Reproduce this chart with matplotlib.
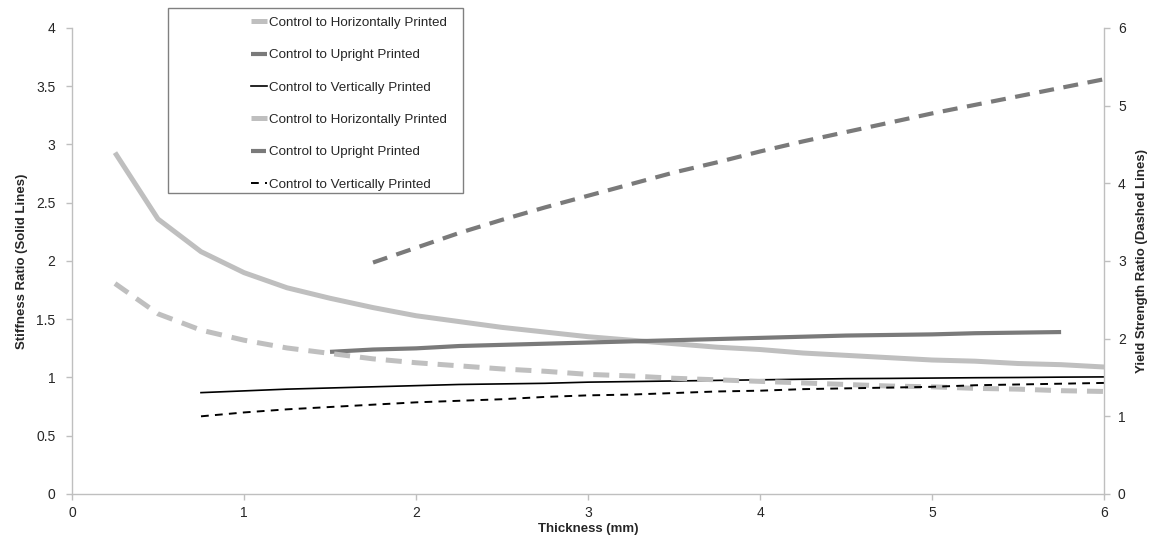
import matplotlib
matplotlib.use("Agg")
import matplotlib.pyplot as plt
from matplotlib.patches import Rectangle

plt.rcParams['font.family'] = ['Liberation Sans', 'DejaVu Sans']

# ---- data ----
x_horiz = [0.25, 0.5, 0.75, 1.0, 1.25, 1.5, 1.75, 2.0, 2.25, 2.5, 2.75, 3.0,
           3.25, 3.5, 3.75, 4.0, 4.25, 4.5, 4.75, 5.0, 5.25, 5.5, 5.75, 6.0]
stiff_horiz = [2.93, 2.36, 2.08, 1.90, 1.77, 1.68, 1.60, 1.53, 1.48, 1.43, 1.39, 1.35,
               1.32, 1.29, 1.26, 1.24, 1.21, 1.19, 1.17, 1.15, 1.14, 1.12, 1.11, 1.09]

x_upright_s = [1.5, 1.75, 2.0, 2.25, 2.5, 2.75, 3.0, 3.25, 3.5, 3.75, 4.0,
               4.25, 4.5, 4.75, 5.0, 5.25, 5.5, 5.75]
stiff_upright = [1.22, 1.24, 1.25, 1.27, 1.28, 1.29, 1.30, 1.31, 1.32, 1.33, 1.34,
                 1.35, 1.36, 1.365, 1.37, 1.38, 1.385, 1.39]

x_vert = [0.75, 1.0, 1.25, 1.5, 1.75, 2.0, 2.25, 2.5, 2.75, 3.0, 3.25, 3.5,
          3.75, 4.0, 4.25, 4.5, 4.75, 5.0, 5.25, 5.5, 5.75, 6.0]
stiff_vert = [0.87, 0.885, 0.90, 0.91, 0.92, 0.93, 0.94, 0.945, 0.95, 0.96, 0.965, 0.97,
              0.975, 0.98, 0.985, 0.99, 0.992, 0.995, 0.998, 1.0, 1.003, 1.005]

yield_horiz = [2.71, 2.32, 2.11, 1.98, 1.88, 1.81, 1.74, 1.69, 1.65, 1.61, 1.58, 1.54,
               1.52, 1.49, 1.47, 1.45, 1.43, 1.41, 1.39, 1.38, 1.36, 1.35, 1.33, 1.32]

x_upright_y = [1.75, 2.0, 2.25, 2.5, 2.75, 3.0, 3.25, 3.5, 3.75, 4.0, 4.25,
               4.5, 4.75, 5.0, 5.25, 5.5, 5.75, 6.0]
yield_upright = [2.98, 3.17, 3.36, 3.53, 3.69, 3.84, 3.99, 4.14, 4.27, 4.41, 4.54,
                 4.66, 4.78, 4.90, 5.01, 5.12, 5.23, 5.34]

yield_vert = [1.00, 1.05, 1.09, 1.12, 1.15, 1.18, 1.20, 1.22, 1.25, 1.27, 1.28, 1.30,
              1.32, 1.33, 1.35, 1.36, 1.37, 1.38, 1.40, 1.41, 1.42, 1.43]

legend_labels = ["Control to Horizontally Printed", "Control to Upright Printed",
                 "Control to Vertically Printed", "Control to Horizontally Printed",
                 "Control to Upright Printed", "Control to Vertically Printed"]

x_ticks = [0, 1, 2, 3, 4, 5, 6]
left_ticks = [0, 0.5, 1, 1.5, 2, 2.5, 3, 3.5, 4]
right_ticks = [0, 1, 2, 3, 4, 5, 6]

LIGHT = '#bfbfbf'
DARK = '#7a7a7a'
BLACK = '#000000'
SPINE = '#bfbfbf'
TXT = '#262626'

fig = plt.figure(figsize=(11.61, 5.40), dpi=100)
ax = fig.add_axes([0.062, 0.0852, 0.889, 0.863])
ax2 = ax.twinx()

# solid lines (left axis)
l1, = ax.plot(x_horiz, stiff_horiz, color=LIGHT, lw=3.6, solid_capstyle='butt')
l2, = ax.plot(x_upright_s, stiff_upright, color=DARK, lw=3.0, solid_capstyle='butt')
l3, = ax.plot(x_vert, stiff_vert, color=BLACK, lw=1.2)

# dashed lines (right axis)
d1, = ax2.plot(x_horiz, yield_horiz, color=LIGHT, lw=3.6, dashes=(3.2, 2.0))
d2, = ax2.plot(x_upright_y, yield_upright, color=DARK, lw=3.0, dashes=(3.6, 2.3))
d3, = ax2.plot(x_vert, yield_vert, color=BLACK, lw=1.4, dashes=(4.0, 3.2))

ax.set_xlim(0, 6)
ax.set_ylim(0, 4)
ax2.set_ylim(0, 6)
ax.set_xticks(x_ticks)
ax.set_xticklabels([str(v) for v in x_ticks])
ax.set_yticks(left_ticks)
ax.set_yticklabels(['0', '0.5', '1', '1.5', '2', '2.5', '3', '3.5', '4'])
ax2.set_yticks(right_ticks)
ax2.set_yticklabels([str(v) for v in right_ticks])

for a in (ax, ax2):
    a.spines['top'].set_visible(False)
    for s in ('left', 'right', 'bottom'):
        a.spines[s].set_color(SPINE)
        a.spines[s].set_linewidth(1.0)
    a.tick_params(colors=SPINE, labelcolor=TXT, labelsize=10, length=4, width=1.0,
                  direction='out')
ax.spines['right'].set_visible(False)
ax2.spines['left'].set_visible(False)
ax2.spines['bottom'].set_visible(False)
ax.tick_params(axis='y', pad=8)
ax2.tick_params(axis='y', pad=6)
ax.tick_params(axis='x', pad=5)

ax.set_xlabel("Thickness (mm)", fontsize=9.5, fontweight='bold', color=TXT, labelpad=2)
ax.set_ylabel("Stiffness Ratio (Solid Lines)", fontsize=9.5, fontweight='bold', color=TXT,
              labelpad=6)
ax2.set_ylabel("Yield Strength Ratio (Dashed Lines)", fontsize=9.5, fontweight='bold',
               color=TXT, labelpad=7)

# legend box
box = Rectangle((168 / 1161, 1 - 193 / 540), 295 / 1161, 185 / 540,
                transform=fig.transFigure, facecolor='white', edgecolor='#808080',
                lw=1.0, zorder=10)
fig.patches.append(box)
handles = [l1, l2, l3, d1, d2, d3]
leg = fig.legend(handles, legend_labels, loc='upper left',
                 bbox_to_anchor=(240 / 1161, 1 - 6 / 540), frameon=False,
                 fontsize=9.6, handlelength=1.2, handletextpad=0.15,
                 labelspacing=1.5, borderpad=0.3)
leg.set_zorder(11)
for t in leg.get_texts():
    t.set_color(TXT)

fig.savefig("out.png", dpi=100)
